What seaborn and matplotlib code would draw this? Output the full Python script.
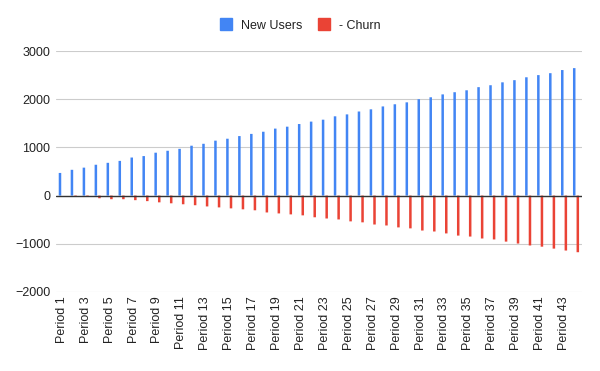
import pandas as pd
import numpy as np
import matplotlib
matplotlib.use("Agg")
import matplotlib.pyplot as plt
from matplotlib.lines import Line2D
import seaborn as sns

# values
periods = [f"Period {i}" for i in range(1, 45)]
new_users = [470, 535, 580, 640, 680, 720, 790, 820, 890, 930,
             970, 1035, 1075, 1140, 1180, 1235, 1280, 1325, 1390, 1430,
             1485, 1535, 1575, 1645, 1685, 1745, 1790, 1850, 1895, 1935,
             2000, 2040, 2100, 2145, 2185, 2250, 2290, 2350, 2395, 2455,
             2500, 2540, 2605, 2645]
churn = [0, -10, -25, -55, -75, -75, -95, -115, -140, -160,
         -180, -200, -225, -245, -265, -285, -305, -350, -370, -390,
         -410, -450, -475, -495, -535, -555, -600, -620, -660, -680,
         -725, -745, -785, -830, -850, -890, -910, -955, -995, -1035,
         -1060, -1100, -1140, -1175]
series_names = ["New Users", "- Churn"]
colors = {"New Users": "#4285F4", "- Churn": "#EA4335"}

df = pd.DataFrame({
    "Period": periods * 2,
    "Series": [series_names[0]] * len(periods) + [series_names[1]] * len(periods),
    "Value": new_users + churn,
})

sns.set_style("white")
plt.rcParams["font.family"] = ["Liberation Sans", "DejaVu Sans"]

fig, ax = plt.subplots(figsize=(6, 3.71), dpi=100)
fig.subplots_adjust(left=0.093, right=0.97, top=0.8625, bottom=0.213)

sns.barplot(data=df, x="Period", y="Value", hue="Series", order=periods,
            hue_order=series_names, palette=colors, width=0.6, gap=0.3,
            legend=False, ax=ax, saturation=1, linewidth=0)
for p in ax.patches:
    p.set_snap(False)

ax.set_ylim(-2000, 3000)
ax.set_yticks(range(-2000, 3001, 1000))
ax.set_xlim(-0.5, len(periods) - 0.5)
ax.set_xticks(range(0, len(periods), 2))
ax.set_xticklabels(periods[::2], rotation=90, fontsize=9, color="#222222")
ax.tick_params(axis="y", labelsize=9, labelcolor="#222222", length=0, pad=4)
ax.tick_params(axis="x", length=0, pad=3)
ax.yaxis.grid(True, color="#cccccc", lw=0.8)
ax.set_axisbelow(True)
ax.axhline(0, color="#333333", lw=1, zorder=3)
ax.set_xlabel("")
ax.set_ylabel("")
for s in ax.spines.values():
    s.set_visible(False)

handles = [Line2D([], [], marker="s", ls="", markersize=8.5,
                  markerfacecolor=colors[n], markeredgecolor=colors[n])
           for n in series_names]
fig.legend(handles, series_names, loc="center", bbox_to_anchor=(0.5, 0.931),
           ncol=2, frameon=False, fontsize=9, handlelength=1.0,
           handletextpad=0.7, columnspacing=1.2, labelcolor="#222222")

fig.savefig("out.png", dpi=100)
